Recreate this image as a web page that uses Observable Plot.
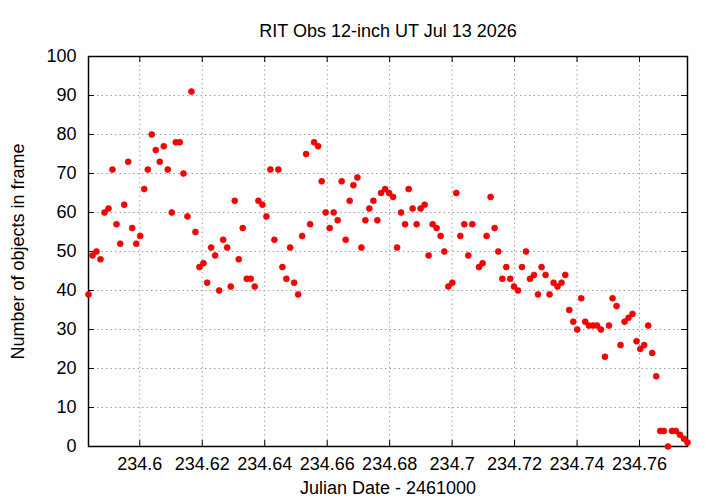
<!DOCTYPE html>
<html>
<head>
<meta charset="utf-8">
<script src="https://cdn.jsdelivr.net/npm/d3@7"></script>
<script src="https://cdn.jsdelivr.net/npm/@observablehq/plot@0.6"></script>
<style>
  html, body { margin: 0; padding: 0; background: #fff; }
  #plot { width: 720px; height: 504px; }
</style>
</head>
<body>
<div id="plot"></div>
<script>
// Julian Date - 2461000, one entry per frame
const jd = [
  234.58358, 234.58486, 234.58614, 234.58742, 234.58870, 234.58998, 234.59126, 234.59254, 234.59373, 234.59501,
  234.59629, 234.59757, 234.59885, 234.60013, 234.60141, 234.60256, 234.60384, 234.60512, 234.60640, 234.60768,
  234.60896, 234.61024, 234.61152, 234.61280, 234.61398, 234.61526, 234.61654, 234.61782, 234.61910, 234.62038,
  234.62157, 234.62285, 234.62413, 234.62541, 234.62669, 234.62797, 234.62912, 234.63040, 234.63168, 234.63296,
  234.63424, 234.63552, 234.63680, 234.63798, 234.63926, 234.64054, 234.64182, 234.64310, 234.64438, 234.64566,
  234.64694, 234.64813, 234.64941, 234.65069, 234.65197, 234.65325, 234.65453, 234.65581, 234.65709, 234.65824,
  234.65952, 234.66080, 234.66208, 234.66336, 234.66464, 234.66592, 234.66720, 234.66838, 234.66966, 234.67094,
  234.67222, 234.67350, 234.67478, 234.67606, 234.67725, 234.67853, 234.67981, 234.68109, 234.68237, 234.68365,
  234.68493, 234.68608, 234.68736, 234.68864, 234.68992, 234.69120, 234.69248, 234.69376, 234.69504, 234.69632,
  234.69750, 234.69878, 234.70006, 234.70134, 234.70262, 234.70390, 234.70518, 234.70646, 234.70861, 234.70976,
  234.71104, 234.71232, 234.71360, 234.71478, 234.71606, 234.71734, 234.71862, 234.71981, 234.72109, 234.72237,
  234.72365, 234.72493, 234.72621, 234.72749, 234.72864, 234.72992, 234.73120, 234.73248, 234.73376, 234.73504,
  234.73622, 234.73750, 234.73878, 234.74006, 234.74134, 234.74262, 234.74381, 234.74509, 234.74637, 234.74765,
  234.74893, 234.75021, 234.75136, 234.75264, 234.75392, 234.75520, 234.75648, 234.75776, 234.75904, 234.76022,
  234.76150, 234.76278, 234.76406, 234.76534, 234.76662, 234.76781, 234.76909, 234.77037, 234.77165, 234.77293,
  234.77421, 234.77536
];

// number of objects detected in each frame
const counts = [
  39, 49, 50, 48, 60, 61, 71, 57, 52, 62,
  73, 56, 52, 54, 66, 71, 80, 76, 73, 77,
  71, 60, 78, 78, 70, 59, 91, 55, 46, 47,
  42, 51, 49, 40, 53, 51, 41, 63, 48, 56,
  43, 43, 41, 63, 62, 59, 71, 53, 71, 46,
  43, 51, 42, 39, 54, 75, 57, 78, 77, 68,
  60, 56, 60, 58, 68, 53, 63, 67, 69, 51,
  58, 61, 63, 58, 65, 66, 65, 64, 51, 60,
  57, 66, 61, 57, 61, 62, 49, 57, 56, 54,
  50, 41, 42, 65, 54, 57, 49, 57, 46, 47,
  54, 64, 56, 50, 43, 46, 43, 41, 40, 46,
  50, 43, 44, 39, 46, 44, 39, 42, 41, 42,
  44, 35, 32, 30, 38, 32, 31, 31, 31, 30,
  23, 31, 38, 36, 26, 32, 33, 34, 27, 25,
  26, 31, 24, 18, 4, 4, 0, 4, 4, 3,
  2, 1
];

const xTicks = [234.6, 234.62, 234.64, 234.66, 234.68, 234.7, 234.72, 234.74, 234.76];
const yTicks = [0, 10, 20, 30, 40, 50, 60, 70, 80, 90, 100];

const title = "RIT Obs 12-inch UT Jul 13 2026";
const xLabel = "Julian Date - 2461000";
const yLabel = "Number of objects in frame";

const frames = jd.map((x, i) => ({ jd: x, n: counts[i] }));

const W = 720, H = 504;
const mL = 88, mR = 33, mT = 56, mB = 58;
const plotW = W - mL - mR;
const plotH = H - mT - mB;
const tick = 6;
const fs = 18;
const font = "'Liberation Sans', Arial, Helvetica, sans-serif";

const chart = Plot.plot({
  width: W,
  height: H,
  marginLeft: mL,
  marginRight: mR,
  marginTop: mT,
  marginBottom: mB,
  style: { background: "#fff", color: "#000", fontFamily: font, fontSize: fs + "px" },
  x: { domain: [jd[0], jd[jd.length - 1]], axis: null },
  y: { domain: [0, 100], axis: null },
  marks: [
    // dotted grid
    Plot.ruleX(xTicks, { x: d => d, stroke: "#a0a0a0", strokeDasharray: "1.5,3" }),
    Plot.ruleY(yTicks.filter(d => d > 0 && d < 100), { y: d => d, stroke: "#a0a0a0", strokeDasharray: "1.5,3" }),
    // inward ticks, mirrored on all four sides
    Plot.tickX(xTicks, { x: d => d, insetTop: plotH - tick, stroke: "#000" }),
    Plot.tickX(xTicks, { x: d => d, insetBottom: plotH - tick, stroke: "#000" }),
    Plot.tickY(yTicks, { y: d => d, insetRight: plotW - tick, stroke: "#000" }),
    Plot.tickY(yTicks, { y: d => d, insetLeft: plotW - tick, stroke: "#000" }),
    Plot.frame({ stroke: "#000", strokeWidth: 1.5 }),
    Plot.axisX(xTicks, {
      tickSize: 0, tickPadding: 11, fontSize: fs, label: null,
      tickFormat: d => String(+d.toFixed(2))
    }),
    Plot.axisY(yTicks, { tickSize: 0, tickPadding: 12, fontSize: fs, label: null }),
    Plot.dot(frames, { x: "jd", y: "n", r: 3, fill: "#ff0000", stroke: "#d40000", strokeWidth: 0.6 }),
    Plot.text([title], { frameAnchor: "top", dy: -32, fontSize: fs }),
    Plot.text([xLabel], { frameAnchor: "bottom", dy: 47, fontSize: fs }),
    Plot.text([yLabel], { frameAnchor: "left", textAnchor: "middle", dx: -70, rotate: -90, fontSize: fs })
  ]
});

document.getElementById("plot").appendChild(chart);
</script>
</body>
</html>
